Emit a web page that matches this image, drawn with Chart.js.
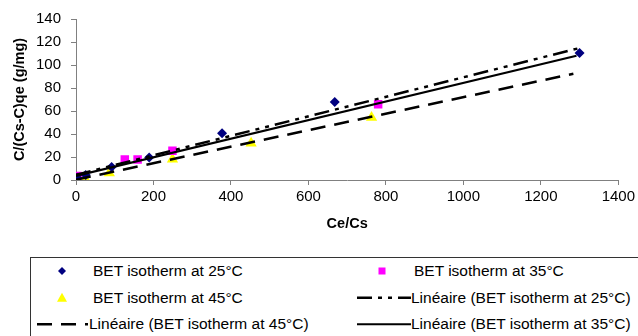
<!DOCTYPE html>
<html>
<head>
<meta charset="utf-8">
<script src="https://cdn.jsdelivr.net/npm/chart.js@4.4.0/dist/chart.umd.min.js"></script>
<style>
  body { margin: 0; background: #fff; width: 638px; height: 336px; overflow: hidden; position: relative; font-family: "Liberation Sans", Arial, sans-serif; }
  #wrap { position: absolute; left: 0; top: 0; width: 638px; height: 250px; }
  #leyenda { position: absolute; left: 30px; top: 257px; width: 640px; height: 100px; border: 1px solid #333; box-sizing: border-box; }
  .item { position: absolute; font-size: 15.5px; color: #000; white-space: nowrap; line-height: 18px; }
  svg { position: absolute; overflow: visible; }
</style>
</head>
<body>
<div id="wrap"><canvas id="grafico"></canvas></div>
<div id="leyenda"></div>
<script>
// valores
const xs25 = [3, 25, 92, 189, 377, 668, 1300];
const ys25 = [2, 4.3, 11.4, 19.5, 40.6, 67.8, 110.5];
const xs35 = [4, 126, 159, 249, 780];
const ys35 = [3.5, 17.8, 17.8, 25.5, 65.8];
const xs45 = [2, 24, 86, 249, 452, 763];
const ys45 = [0, 0.8, 6, 18, 32, 54.3];

// rectas de tendencia (inicio y fin)
const lin25x = [0, 1297], lin25y = [4.5, 114.5];
const lin35x = [0, 1292], lin35y = [3.5, 108];
const lin45x = [0, 1284], lin45y = [0.3, 92.4];

const xTicks = [0, 200, 400, 600, 800, 1000, 1200, 1400];
const yTicks = [0, 20, 40, 60, 80, 100, 120, 140];

const etiquetas = [
  'BET isotherm at 25°C', 'BET isotherm at 35°C', 'BET isotherm at 45°C',
  'Linéaire (BET isotherm at 25°C)', 'Linéaire (BET isotherm at 45°C)', 'Linéaire (BET isotherm at 35°C)'
];

function puntos(xs, ys) {
  return xs.map((x, i) => ({ x: x, y: ys[i] }));
}

const fuente = "'Liberation Sans', Arial, sans-serif";

new Chart(document.getElementById('grafico'), {
  type: 'scatter',
  data: {
    datasets: [
      { label: etiquetas[3], type: 'line', data: puntos(lin25x, lin25y), borderColor: '#000', borderWidth: 2.5,
        borderDash: [15, 6, 4, 6, 4, 6], pointRadius: 0, fill: false },
      { label: etiquetas[4], type: 'line', data: puntos(lin45x, lin45y), borderColor: '#000', borderWidth: 2.5,
        borderDash: [15, 9], pointRadius: 0, fill: false },
      { label: etiquetas[5], type: 'line', data: puntos(lin35x, lin35y), borderColor: '#000', borderWidth: 2.2,
        pointRadius: 0, fill: false },
      { label: etiquetas[0], data: puntos(xs25, ys25), pointStyle: 'rectRot', pointRadius: 5,
        backgroundColor: '#000080', borderColor: '#000080', borderWidth: 0 },
      { label: etiquetas[1], data: puntos(xs35, ys35), pointStyle: 'rect', pointRadius: 6,
        backgroundColor: '#ff00ff', borderColor: '#ff00ff', borderWidth: 0 },
      { label: etiquetas[2], data: puntos(xs45, ys45), pointStyle: 'triangle', pointRadius: 6.5,
        backgroundColor: '#ffff00', borderColor: '#ffff00', borderWidth: 0 }
    ]
  },
  options: {
    responsive: true,
    maintainAspectRatio: false,
    animation: false,
    layout: { padding: { left: 7, top: 17, right: 18, bottom: 13 } },
    plugins: { legend: { display: false }, tooltip: { enabled: false } },
    scales: {
      x: {
        type: 'linear', min: 0, max: 1400,
        afterBuildTicks: s => { s.ticks = xTicks.map(v => ({ value: v })); },
        afterFit: s => { s.height = 57; },
        grid: { drawOnChartArea: false, drawTicks: true, tickLength: 5, color: '#808080' },
        border: { color: '#808080', width: 1 },
        ticks: { color: '#000', padding: 3, font: { family: fuente, size: 15 }, callback: v => String(v) },
        title: { display: true, text: 'Ce/Cs', color: '#000', font: { family: fuente, size: 14.5, weight: 'bold' } }
      },
      y: {
        type: 'linear', min: 0, max: 140,
        afterBuildTicks: s => { s.ticks = yTicks.map(v => ({ value: v })); },
        afterFit: s => { s.width = 69; },
        grid: { drawOnChartArea: false, drawTicks: true, tickLength: 5, color: '#808080' },
        border: { color: '#808080', width: 1 },
        ticks: { color: '#000', padding: 10, font: { family: fuente, size: 15 }, callback: v => String(v) },
        title: { display: true, text: 'C/(Cs-C)qe (g/mg)', color: '#000', font: { family: fuente, size: 14.5, weight: 'bold' } }
      }
    }
  }
});

// leyenda en recuadro, posiciones relativas al recuadro (30, 257)
const ley = document.getElementById('leyenda');
const filas = [13, 39.7, 66.3];
const items = [
  { txt: etiquetas[0], tx: 62, fila: 0, sym: 'diamond', sx: 31 },
  { txt: etiquetas[1], tx: 383, fila: 0, sym: 'square', sx: 351 },
  { txt: etiquetas[2], tx: 62, fila: 1, sym: 'triangle', sx: 31 },
  { txt: etiquetas[3], tx: 380, fila: 1, sym: 'dashdot', sx: 326 },
  { txt: etiquetas[4], tx: 58, fila: 2, sym: 'dash', sx: 6 },
  { txt: etiquetas[5], tx: 380, fila: 2, sym: 'solid', sx: 326 }
];

function simbolo(tipo, x, y) {
  let s = '';
  if (tipo === 'diamond') s = `<polygon points="${x},${y-4} ${x+4},${y} ${x},${y+4} ${x-4},${y}" fill="#000080"/>`;
  if (tipo === 'square') s = `<rect x="${x-3.5}" y="${y-3.5}" width="7" height="7" fill="#ff00ff"/>`;
  if (tipo === 'triangle') s = `<polygon points="${x},${y-5} ${x+5},${y+4} ${x-5},${y+4}" fill="#ffff00"/>`;
  if (tipo === 'dashdot') s = `<line x1="${x}" y1="${y}" x2="${x+54}" y2="${y}" stroke="#000" stroke-width="2.5" stroke-dasharray="15 6 4 6 4 6"/>`;
  if (tipo === 'dash') s = `<line x1="${x}" y1="${y}" x2="${x+51}" y2="${y}" stroke="#000" stroke-width="2.5" stroke-dasharray="15 9"/>`;
  if (tipo === 'solid') s = `<line x1="${x}" y1="${y}" x2="${x+54}" y2="${y}" stroke="#000" stroke-width="2"/>`;
  return `<svg width="1" height="1" style="left:0;top:0">${s}</svg>`;
}

items.forEach(it => {
  const y = filas[it.fila];
  ley.insertAdjacentHTML('beforeend', simbolo(it.sym, it.sx, y));
  const d = document.createElement('div');
  d.className = 'item';
  d.style.left = it.tx + 'px';
  d.style.top = (y - 9) + 'px';
  d.textContent = it.txt;
  ley.appendChild(d);
});
</script>
</body>
</html>
